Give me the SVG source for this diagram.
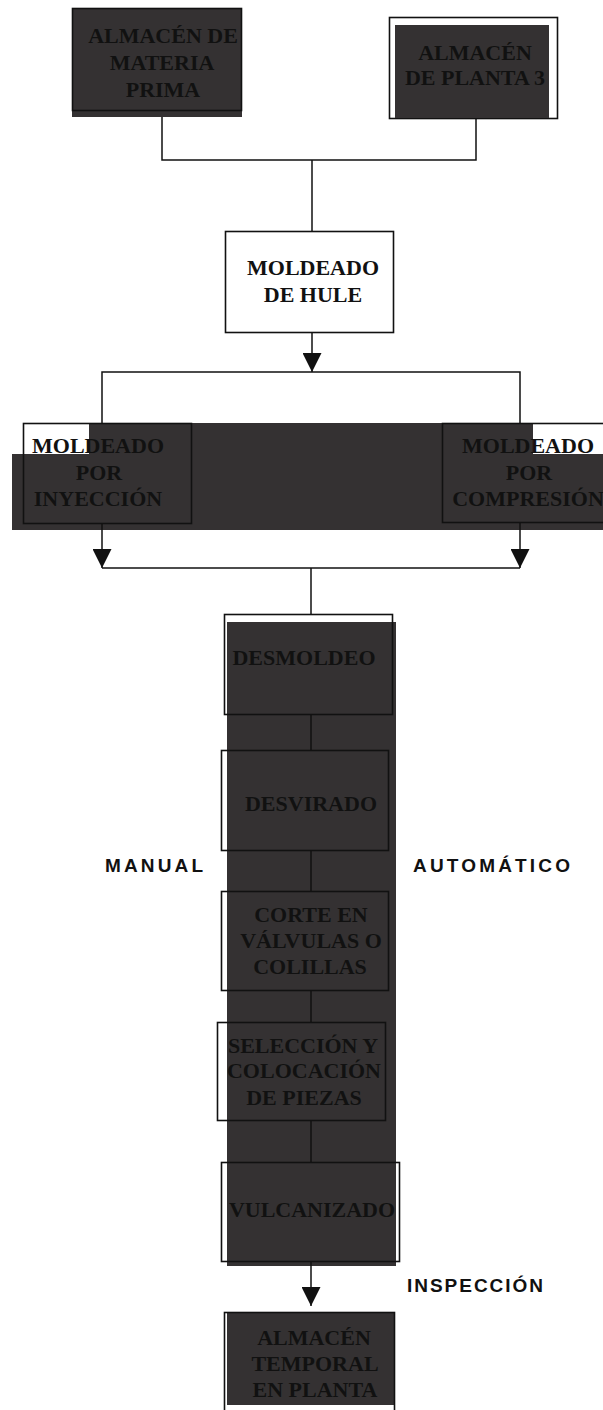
<svg xmlns="http://www.w3.org/2000/svg" width="603" height="1410" viewBox="0 0 603 1410">
<style>
.dark{fill:#343132}
.box{fill:none;stroke:#111;stroke-width:1.6}
.wbox{fill:#fff;stroke:#111;stroke-width:1.6}
.t{font-family:"Liberation Serif","Times New Roman",serif;font-weight:bold;font-size:22px;fill:#111;text-anchor:middle}
.s{font-family:"Liberation Sans",Arial,sans-serif;font-weight:bold;font-size:19px;fill:#111}
.c{fill:none;stroke:#111;stroke-width:1.5}
</style>
<defs>
<marker id="arr" viewBox="0 0 10 10" refX="10" refY="5" markerWidth="19" markerHeight="19" markerUnits="userSpaceOnUse" orient="auto">
<path d="M0,0 L10,5 L0,10 z" fill="#111"/>
</marker>
</defs>
<rect width="603" height="1410" fill="#fff"/>
<g id="background">
<rect class="dark" x="89" y="423" width="444" height="31"/>
<rect class="dark" x="12" y="454" width="591" height="76"/>
<rect class="dark" x="227" y="622" width="169" height="644"/>
</g>
<g id="connectors">
<path class="c" d="M162 117 V160 H476 V119"/>
<path class="c" d="M312 160 V231"/>
<path class="c" d="M312 333 V372" marker-end="url(#arr)"/>
<path class="c" d="M102 423 V372 H520 V423"/>
<path class="c" d="M102 524 V568" marker-end="url(#arr)"/>
<path class="c" d="M520 523 V568" marker-end="url(#arr)"/>
<path class="c" d="M102 568 H520"/>
<path class="c" d="M311 568 V614"/>
<path class="c" d="M311 715 V750"/>
<path class="c" d="M311 851 V891"/>
<path class="c" d="M311 991 V1022"/>
<path class="c" d="M311 1121 V1162"/>
<path class="c" d="M311 1262 V1306" marker-end="url(#arr)"/>
</g>
<g id="n1">
<rect class="dark" x="72" y="8" width="170" height="109"/>
<rect class="box" x="72.5" y="8.5" width="169" height="102"/>
<text class="t" x="163" y="43">ALMACÉN DE</text>
<text class="t" x="162" y="70">MATERIA</text>
<text class="t" x="163" y="97">PRIMA</text>
</g>
<g id="n2">
<rect class="wbox" x="389.5" y="17.5" width="168" height="101"/>
<rect class="dark" x="395" y="25" width="154" height="93"/>
<text class="t" x="475" y="60">ALMACÉN</text>
<text class="t" x="475" y="85">DE PLANTA 3</text>
</g>
<g id="n3">
<rect class="wbox" x="225.5" y="231.5" width="168" height="101"/>
<text class="t" x="313" y="275">MOLDEADO</text>
<text class="t" x="313" y="302">DE HULE</text>
</g>
<g id="n4">
<rect class="box" x="23.5" y="423.5" width="168" height="100"/>
<text class="t" x="98" y="453">MOLDEADO</text>
<text class="t" x="99" y="480">POR</text>
<text class="t" x="98" y="506">INYECCIÓN</text>
</g>
<g id="n5">
<rect class="box" x="442.5" y="423.5" width="170" height="99"/>
<text class="t" x="528" y="453">MOLDEADO</text>
<text class="t" x="529" y="480">POR</text>
<text class="t" x="528" y="506">COMPRESIÓN</text>
</g>
<g id="n6">
<rect class="box" x="224.5" y="614.5" width="168" height="100"/>
<text class="t" x="304" y="665">DESMOLDEO</text>
</g>
<g id="n7">
<rect class="box" x="221.5" y="750.5" width="167" height="100"/>
<text class="t" x="311" y="811">DESVIRADO</text>
</g>
<g id="n8">
<rect class="box" x="221.5" y="891.5" width="167" height="99"/>
<text class="t" x="311" y="922">CORTE EN</text>
<text class="t" x="311" y="948">VÁLVULAS O</text>
<text class="t" x="310" y="974">COLILLAS</text>
</g>
<g id="n9">
<rect class="box" x="217.5" y="1022.5" width="168" height="98"/>
<text class="t" x="303" y="1053">SELECCIÓN Y</text>
<text class="t" x="304" y="1078">COLOCACIÓN</text>
<text class="t" x="304" y="1105">DE PIEZAS</text>
</g>
<g id="n10">
<rect class="box" x="221.5" y="1162.5" width="178" height="99"/>
<text class="t" x="312" y="1217">VULCANIZADO</text>
</g>
<g id="n11">
<rect class="dark" x="227" y="1313" width="167" height="92"/>
<rect class="box" x="224.5" y="1312.5" width="170" height="110"/>
<text class="t" x="314" y="1345">ALMACÉN</text>
<text class="t" x="315" y="1371">TEMPORAL</text>
<text class="t" x="315" y="1397">EN PLANTA</text>
</g>
<g id="labels">
<text class="s" x="105" y="872" textLength="98">MANUAL</text>
<text class="s" x="413" y="872" textLength="157">AUTOMÁTICO</text>
<text class="s" x="407" y="1292" textLength="136">INSPECCIÓN</text>
</g>
</svg>
